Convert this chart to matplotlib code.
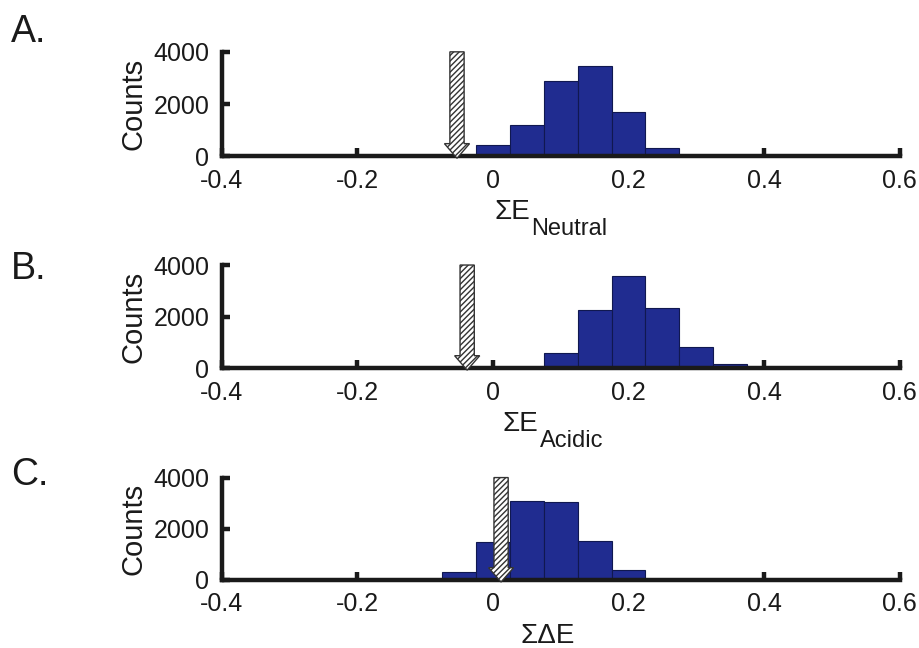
import matplotlib
matplotlib.use('Agg')
import matplotlib.pyplot as plt

plt.rcParams['font.family'] = ['Liberation Sans', 'DejaVu Sans']

# histogram bins (centres) and counts
neutral_bins = [0.0, 0.05, 0.10, 0.15, 0.20, 0.25]
neutral_counts = [420, 1190, 2880, 3440, 1700, 320]

acidic_bins = [0.10, 0.15, 0.20, 0.25, 0.30, 0.35]
acidic_counts = [580, 2240, 3580, 2330, 820, 170]

delta_bins = [-0.05, 0.0, 0.05, 0.10, 0.15, 0.20]
delta_counts = [330, 1480, 3100, 3060, 1530, 400]

# arrow positions (reference value for each panel)
arrow_x = [-0.053, -0.038, 0.012]

panel_letters = ['A.', 'B.', 'C.']
label_main = ['ΣE', 'ΣE', 'ΣΔE']
label_sub = ['Neutral', 'Acidic', '']

bins_all = [neutral_bins, acidic_bins, delta_bins]
counts_all = [neutral_counts, acidic_counts, delta_counts]

bar_color = '#202c90'
bin_width = 0.05

fig = plt.figure(figsize=(9.2, 6.48), dpi=100)

# axes rectangles: left, bottom, width, height
rects = [[0.241, 0.759, 0.737, 0.161],
         [0.241, 0.432, 0.737, 0.159],
         [0.241, 0.105, 0.737, 0.158]]
letter_y = [0.951, 0.585, 0.267]
label_left = [0.402, 0.414, 0.44]

for i in range(3):
    ax = fig.add_axes(rects[i])
    ax.bar(bins_all[i], counts_all[i], width=bin_width, color=bar_color,
           edgecolor='#101850', linewidth=0.8, zorder=2)

    ax.set_xlim(-0.4, 0.6)
    ax.set_ylim(0, 4000)
    ax.set_xticks([-0.4, -0.2, 0, 0.2, 0.4, 0.6])
    ax.set_xticklabels(['-0.4', '-0.2', '0', '0.2', '0.4', '0.6'])
    ax.set_yticks([0, 2000, 4000])

    for side in ['top', 'right']:
        ax.spines[side].set_visible(False)
    for side in ['left', 'bottom']:
        ax.spines[side].set_linewidth(3.2)
        ax.spines[side].set_color('#1a1a1a')
        ax.spines[side].set_zorder(3)

    ax.tick_params(direction='in', length=6, width=3.2, labelsize=18,
                   colors='#1a1a1a')
    ax.tick_params(axis='x', pad=9)
    ax.tick_params(axis='y', pad=9)

    ax.set_ylabel('Counts', fontsize=21, labelpad=4, color='#1a1a1a')

    # x label built from main text plus a large subscript
    t = ax.annotate(label_main[i], xy=(label_left[i], 0), xycoords='axes fraction',
                    xytext=(0, -31), textcoords='offset points',
                    ha='left', va='top', fontsize=20, color='#1a1a1a')
    if label_sub[i]:
        ax.annotate(label_sub[i], xy=(1, 0), xycoords=t,
                    xytext=(1, 5), textcoords='offset points',
                    ha='left', va='top', fontsize=17, color='#1a1a1a')

    # hatched arrow pointing down to the axis
    ax.arrow(arrow_x[i], 4000, 0, -4080, width=0.021, head_width=0.037,
             head_length=560, length_includes_head=True,
             facecolor='white', edgecolor='#333333', hatch='//////',
             linewidth=1.0, zorder=4, clip_on=False)

    fig.text(0.012, letter_y[i], panel_letters[i], fontsize=27,
             ha='left', va='center', color='#1a1a1a')

plt.savefig('out.png', dpi=100)
